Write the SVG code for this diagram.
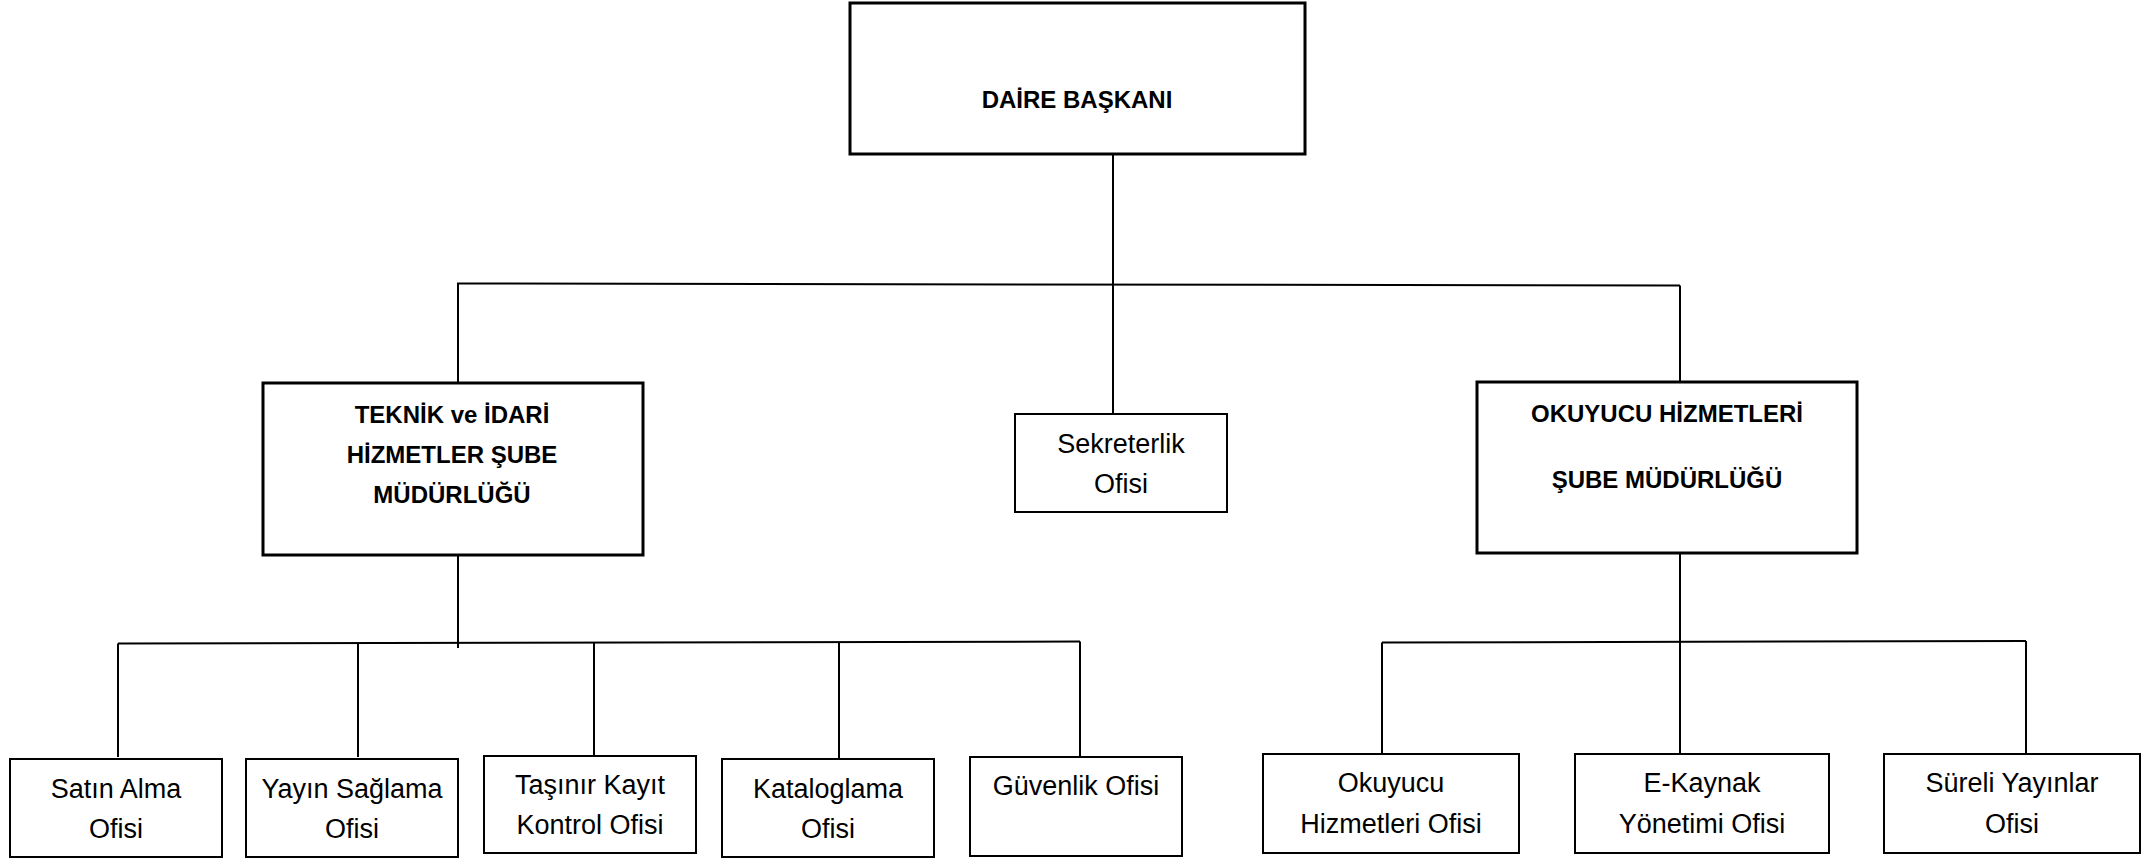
<svg xmlns="http://www.w3.org/2000/svg" width="2151" height="858" viewBox="0 0 2151 858">
<style>
.big{fill:#fff;stroke:#000;stroke-width:3}
.box{fill:#fff;stroke:#000;stroke-width:2}
.ln{stroke:#000;stroke-width:2;fill:none}
.b{font-family:"Liberation Sans",Arial,sans-serif;font-weight:bold;font-size:24px;fill:#000;text-anchor:middle}
.r{font-family:"Liberation Sans",Arial,sans-serif;font-size:27px;fill:#000;text-anchor:middle}
</style>
<rect width="2151" height="858" fill="#fff"/>
<g id="connectors">
<line class="ln" x1="1113" y1="154" x2="1113" y2="414"/>
<line class="ln" x1="457" y1="283.5" x2="1680" y2="285.5"/>
<line class="ln" x1="458" y1="283.5" x2="458" y2="383"/>
<line class="ln" x1="1680" y1="285.5" x2="1680" y2="382"/>
<line class="ln" x1="458" y1="555" x2="458" y2="648"/>
<line class="ln" x1="118" y1="643.5" x2="1080" y2="641.5"/>
<line class="ln" x1="118" y1="643.5" x2="118" y2="757"/>
<line class="ln" x1="358" y1="643" x2="358" y2="757"/>
<line class="ln" x1="594" y1="642.5" x2="594" y2="756"/>
<line class="ln" x1="839" y1="642" x2="839" y2="759"/>
<line class="ln" x1="1080" y1="641.5" x2="1080" y2="757"/>
<line class="ln" x1="1680" y1="553" x2="1680" y2="754"/>
<line class="ln" x1="1382" y1="642.5" x2="2026" y2="641"/>
<line class="ln" x1="1382" y1="642.5" x2="1382" y2="756"/>
<line class="ln" x1="2026" y1="641" x2="2026" y2="754"/>
</g>
<g id="daire-baskani">
<rect class="big" x="850" y="3" width="455" height="151"/>
<text class="b" x="1077" y="108">DAİRE BAŞKANI</text>
</g>
<g id="teknik-idari">
<rect class="big" x="263" y="383" width="380" height="172"/>
<text class="b" x="452" y="423">TEKNİK ve İDARİ</text>
<text class="b" x="452" y="463">HİZMETLER ŞUBE</text>
<text class="b" x="452" y="503">MÜDÜRLÜĞÜ</text>
</g>
<g id="sekreterlik">
<rect class="box" x="1015" y="414" width="212" height="98"/>
<text class="r" x="1121" y="453">Sekreterlik</text>
<text class="r" x="1121" y="493">Ofisi</text>
</g>
<g id="okuyucu-hizmetleri">
<rect class="big" x="1477" y="382" width="380" height="171"/>
<text class="b" x="1667" y="422">OKUYUCU HİZMETLERİ</text>
<text class="b" x="1667" y="488">ŞUBE MÜDÜRLÜĞÜ</text>
</g>
<g id="satin-alma">
<rect class="box" x="10" y="759" width="212" height="98"/>
<text class="r" x="116" y="798">Satın Alma</text>
<text class="r" x="116" y="838">Ofisi</text>
</g>
<g id="yayin-saglama">
<rect class="box" x="246" y="759" width="212" height="98"/>
<text class="r" x="352" y="798">Yayın Sağlama</text>
<text class="r" x="352" y="838">Ofisi</text>
</g>
<g id="tasinir-kayit">
<rect class="box" x="484" y="756" width="212" height="97"/>
<text class="r" x="590" y="794">Taşınır Kayıt</text>
<text class="r" x="590" y="834">Kontrol Ofisi</text>
</g>
<g id="kataloglama">
<rect class="box" x="722" y="759" width="212" height="98"/>
<text class="r" x="828" y="798">Kataloglama</text>
<text class="r" x="828" y="838">Ofisi</text>
</g>
<g id="guvenlik">
<rect class="box" x="970" y="757" width="212" height="99"/>
<text class="r" x="1076" y="795">Güvenlik Ofisi</text>
</g>
<g id="okuyucu-ofisi">
<rect class="box" x="1263" y="754" width="256" height="99"/>
<text class="r" x="1391" y="792">Okuyucu</text>
<text class="r" x="1391" y="833">Hizmetleri Ofisi</text>
</g>
<g id="e-kaynak">
<rect class="box" x="1575" y="754" width="254" height="99"/>
<text class="r" x="1702" y="792">E-Kaynak</text>
<text class="r" x="1702" y="833">Yönetimi Ofisi</text>
</g>
<g id="sureli-yayinlar">
<rect class="box" x="1884" y="754" width="256" height="99"/>
<text class="r" x="2012" y="792">Süreli Yayınlar</text>
<text class="r" x="2012" y="833">Ofisi</text>
</g>
</svg>
